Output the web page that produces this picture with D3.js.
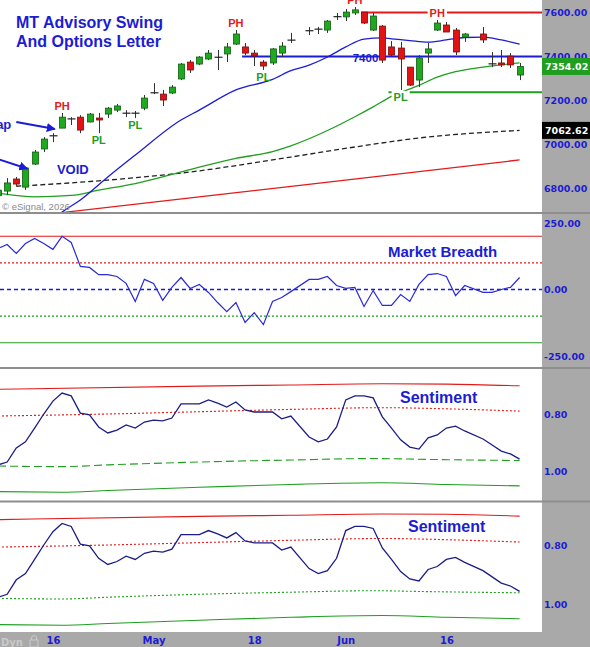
<!DOCTYPE html>
<meta charset="utf-8">
<style>
body { margin: 0; background: #fff; }
svg { display: block; font-family: "Liberation Sans", Arial, sans-serif; }
</style>
<svg id="chart" width="590" height="647"></svg>
<script src="https://cdn.jsdelivr.net/npm/d3@7"></script>
<script>

// ---- data ----
// date, open, high, low, close
var candles = [
  ["2026-04-08", 6765, 6795, 6755, 6790],
  ["2026-04-09", 6786, 6845, 6768, 6823],
  ["2026-04-10", 6841, 6850, 6809, 6818],
  ["2026-04-13", 6804, 6891, 6791, 6891],
  ["2026-04-14", 6909, 6973, 6905, 6964],
  ["2026-04-15", 6978, 7032, 6964, 7023],
  ["2026-04-16", 7037, 7050, 7009, 7038],
  ["2026-04-17", 7073, 7142, 7073, 7123],
  ["2026-04-20", 7119, 7123, 7087, 7115],
  ["2026-04-21", 7123, 7132, 7050, 7064],
  ["2026-04-22", 7101, 7142, 7099, 7137],
  ["2026-04-23", 7119, 7142, 7050, 7110],
  ["2026-04-24", 7137, 7169, 7119, 7164],
  ["2026-04-27", 7155, 7183, 7146, 7174],
  ["2026-04-28", 7142, 7155, 7123, 7141],
  ["2026-04-29", 7140, 7151, 7119, 7141],
  ["2026-04-30", 7164, 7224, 7155, 7210],
  ["2026-05-01", 7233, 7278, 7228, 7234],
  ["2026-05-04", 7228, 7247, 7174, 7201],
  ["2026-05-05", 7233, 7269, 7228, 7260],
  ["2026-05-06", 7297, 7370, 7292, 7365],
  ["2026-05-07", 7374, 7383, 7324, 7338],
  ["2026-05-08", 7365, 7401, 7360, 7397],
  ["2026-05-11", 7388, 7429, 7383, 7415],
  ["2026-05-12", 7397, 7429, 7338, 7396],
  ["2026-05-13", 7411, 7461, 7374, 7443],
  ["2026-05-14", 7456, 7520, 7452, 7502],
  ["2026-05-15", 7443, 7461, 7406, 7415],
  ["2026-05-18", 7415, 7429, 7356, 7402],
  ["2026-05-19", 7374, 7383, 7338, 7356],
  ["2026-05-20", 7370, 7438, 7361, 7434],
  ["2026-05-21", 7415, 7465, 7397, 7447],
  ["2026-05-22", 7475, 7507, 7461, 7474],
  ["2026-05-26", 7516, 7534, 7497, 7517],
  ["2026-05-27", 7525, 7534, 7502, 7524],
  ["2026-05-28", 7520, 7566, 7507, 7561],
  ["2026-05-29", 7580, 7598, 7566, 7581],
  ["2026-06-01", 7580, 7616, 7561, 7602],
  ["2026-06-02", 7598, 7625, 7589, 7612],
  ["2026-06-03", 7602, 7602, 7548, 7552],
  ["2026-06-04", 7520, 7598, 7516, 7584],
  ["2026-06-05", 7538, 7543, 7370, 7383],
  ["2026-06-08", 7443, 7470, 7397, 7406],
  ["2026-06-09", 7438, 7466, 7247, 7388],
  ["2026-06-10", 7351, 7351, 7265, 7269],
  ["2026-06-11", 7292, 7406, 7260, 7393],
  ["2026-06-12", 7415, 7461, 7370, 7434],
  ["2026-06-15", 7520, 7566, 7516, 7552],
  ["2026-06-16", 7543, 7557, 7511, 7511],
  ["2026-06-17", 7520, 7529, 7406, 7420],
  ["2026-06-18", 7488, 7507, 7466, 7502],
  ["2026-06-22", 7502, 7534, 7461, 7475],
  ["2026-06-23", 7365, 7420, 7351, 7366],
  ["2026-06-24", 7370, 7429, 7351, 7361],
  ["2026-06-25", 7401, 7415, 7347, 7361],
  ["2026-06-26", 7315, 7370, 7292, 7354.02]
];

var blueMA = [["2026-04-16", 6655], ["2026-04-17", 6690], ["2026-04-21", 6745], ["2026-04-24", 6850],
  ["2026-04-29", 6950], ["2026-05-06", 7110], ["2026-05-08", 7155], ["2026-05-14", 7247],
  ["2026-05-20", 7295], ["2026-05-22", 7335], ["2026-05-26", 7360], ["2026-05-28", 7397],
  ["2026-06-01", 7443], ["2026-06-03", 7479], ["2026-06-05", 7484], ["2026-06-08", 7480],
  ["2026-06-10", 7472], ["2026-06-12", 7465], ["2026-06-16", 7475], ["2026-06-18", 7486],
  ["2026-06-22", 7488], ["2026-06-24", 7475], ["2026-06-26", 7456]];

var greenMA = [["2026-04-08", 6777], ["2026-04-14", 6760], ["2026-04-20", 6766], ["2026-04-23", 6790],
  ["2026-04-29", 6820], ["2026-05-05", 6862], ["2026-05-08", 6895], ["2026-05-14", 6935],
  ["2026-05-20", 6966], ["2026-05-22", 6992], ["2026-05-28", 7062], ["2026-06-02", 7125],
  ["2026-06-04", 7170], ["2026-06-08", 7218], ["2026-06-11", 7268], ["2026-06-15", 7305],
  ["2026-06-17", 7330], ["2026-06-22", 7351], ["2026-06-26", 7370]];

var blackMA = [["2026-04-10", 6808], ["2026-04-24", 6836], ["2026-05-06", 6868], ["2026-05-22", 6941],
  ["2026-06-02", 6987], ["2026-06-11", 7028], ["2026-06-26", 7062.62]];

var redMA = [["2026-04-16", 6683], ["2026-04-17", 6688], ["2026-05-25", 6812], ["2026-06-26", 6928]];

var priceTicks = [6800, 7000, 7200, 7400, 7600];

// horizontal levels: start date, price
var levels = [["2026-06-03", 7600, "#e31a1a"], ["2026-05-15", 7400, "#1c1cd2"], ["2026-06-08", 7237, "#1f9e1f"]];
var levelText = ["2026-06-01", 7400, "7400"];

var swings = [["2026-04-17", "PH"], ["2026-04-23", "PL"], ["2026-04-29", "PL"], ["2026-05-14", "PH"],
  ["2026-05-19", "PL"], ["2026-06-02", "PH"], ["2026-06-09", "PL"], ["2026-06-15", "PH"]];

// arrows: tail [date, price], tip [date, price], text at tail
var arrows = [
  [["2026-04-10", 7101], ["2026-04-16", 7069], "Gap"],
  [["2026-04-08", 6932], ["2026-04-13", 6888], ""]
];
var voidNote = ["2026-04-16", 6866, "VOID"];

var breadth = [154, 169, 136, 173, 192, 173, 151, 200, 177, 87, 83, 56, 56, 49, 23, -45, 38, 23, -41, 8,
  45, 4, 19, -11, -49, -83, -49, -124, -87, -132, -45, -30, -8,
  38, 38, 49, 15, 4, 8, -64, -4, -60, -60, -19, -45, 19, 56, 60, 49, -23, 15,
  -11, -11, 0, 8, 45];
var breadthTicks = [250, 0, -250];
var breadthLevels = [[200, "#e31a1a", null], [100, "#e31a1a", "2,2"], [0, "#1c1cd2", "4,3"],
  [-100, "#1f9e1f", "2,2"], [-200, "#1f9e1f", null]];

var sentiment = [0.977, 0.967, 0.918, 0.897, 0.849, 0.800, 0.755, 0.727, 0.737, 0.797, 0.803, 0.845,
  0.866, 0.856, 0.838, 0.849, 0.828, 0.821, 0.824, 0.814, 0.765, 0.765, 0.765, 0.751, 0.762, 0.776,
  0.758, 0.786, 0.793, 0.793, 0.793, 0.817, 0.807,
  0.880, 0.897, 0.887, 0.845, 0.751, 0.737, 0.737, 0.744, 0.810, 0.849, 0.890, 0.915, 0.922, 0.883,
  0.873, 0.849, 0.842, 0.859,
  0.887, 0.908, 0.929, 0.939, 0.957];
var sentUpper = [["2026-04-08", 0.714], ["2026-05-08", 0.703], ["2026-05-22", 0.699], ["2026-06-05", 0.695],
  ["2026-06-16", 0.696], ["2026-06-26", 0.702]];
var sentUpperMid = [["2026-04-08", 0.807], ["2026-04-24", 0.800], ["2026-05-08", 0.792], ["2026-05-22", 0.784],
  ["2026-06-05", 0.778], ["2026-06-16", 0.782], ["2026-06-26", 0.790]];
var sentLowerMid = [["2026-04-08", 0.981], ["2026-04-17", 0.983], ["2026-04-24", 0.977], ["2026-05-08", 0.967],
  ["2026-05-22", 0.960], ["2026-06-04", 0.955], ["2026-06-12", 0.958], ["2026-06-26", 0.962]];
var sentLower = [["2026-04-08", 1.070], ["2026-04-17", 1.072], ["2026-04-24", 1.066], ["2026-05-08", 1.055],
  ["2026-05-22", 1.045], ["2026-06-05", 1.039], ["2026-06-16", 1.045], ["2026-06-26", 1.050]];
var sentTicks = [0.8, 1.0];

var dateTicks = [["2026-04-16", "16"], ["2026-05-01", "May"], ["2026-05-18", "18"], ["2026-06-01", "Jun"], ["2026-06-16", "16"]];

// ---- layout ----
var svg = d3.select("#chart");
var W = 590, H = 647, plotRight = 542, axisTop = 632;
var blue = "#1c1cd2", red = "#e31a1a", green = "#1f9e1f", gray = "#a9a9a9";
var panels = {
  price: [0, 212],
  breadth: [214, 367],
  sent1: [369, 500],
  sent2: [503, 631]
};

var fmtDay = d3.timeFormat("%Y-%m-%d");
var weekdays = d3.timeDay.range(new Date(2026, 3, 8), new Date(2026, 5, 27))
  .filter(function(d) { return d.getDay() > 0 && d.getDay() < 6; })
  .map(fmtDay);
var tradeDays = candles.map(function(d) { return d[0]; });

var x = d3.scalePoint().domain(weekdays).range([-2, 519.6]);
var yPrice = d3.scaleLinear().domain([6800, 7600]).range([188, 12.5]);
var yBreadth = d3.scaleLinear().domain([-250, 250]).range([356, 223]);
var ySent1 = d3.scaleLinear().domain([0.8, 1.0]).range([414, 471.5]);
var ySent2 = d3.scaleLinear().domain([0.8, 1.0]).range([545, 604]);

var defs = svg.append("defs");
Object.keys(panels).forEach(function(k) {
  defs.append("clipPath").attr("id", "clip-" + k)
    .append("rect").attr("x", 0).attr("y", panels[k][0])
    .attr("width", plotRight).attr("height", panels[k][1] - panels[k][0]);
});
defs.append("marker").attr("id", "arrowHead")
  .attr("viewBox", "0 0 10 10").attr("refX", 9).attr("refY", 5)
  .attr("markerWidth", 4.5).attr("markerHeight", 4.5).attr("orient", "auto")
  .append("path").attr("d", "M0,0L10,5L0,10Z").attr("fill", blue);

// backgrounds
svg.append("rect").attr("width", W).attr("height", H).attr("fill", "#fff");
svg.append("rect").attr("x", plotRight).attr("y", 0).attr("width", W - plotRight).attr("height", H).attr("fill", gray);
svg.append("rect").attr("x", 0).attr("y", axisTop).attr("width", W).attr("height", H - axisTop).attr("fill", gray);
[213, 368, 501.5].forEach(function(yy) {
  svg.append("line").attr("x1", 0).attr("x2", W).attr("y1", yy).attr("y2", yy)
    .attr("stroke", "#8e8e8e").attr("stroke-width", 2);
});

var keyLine = function(yScale, curve) {
  return d3.line()
    .x(function(d) { return x(d[0]); })
    .y(function(d) { return yScale(d[1]); })
    .curve(curve || d3.curveMonotoneX);
};

// ---- price panel ----
var gp = svg.append("g").attr("clip-path", "url(#clip-price)");

gp.append("path").datum(redMA).attr("d", keyLine(yPrice)).attr("fill", "none").attr("stroke", red).attr("stroke-width", 1.3);
gp.append("path").datum(blackMA).attr("d", keyLine(yPrice)).attr("fill", "none").attr("stroke", "#222")
  .attr("stroke-width", 1.3).attr("stroke-dasharray", "5,3");
gp.append("path").datum(greenMA).attr("d", keyLine(yPrice)).attr("fill", "none").attr("stroke", green).attr("stroke-width", 1.3);
gp.append("path").datum(blueMA).attr("d", keyLine(yPrice)).attr("fill", "none").attr("stroke", blue).attr("stroke-width", 1.3);

gp.selectAll("line.level").data(levels).enter().append("line")
  .attr("class", "level")
  .attr("x1", function(d) { return x(d[0]) - 3; })
  .attr("x2", plotRight)
  .attr("y1", function(d) { return yPrice(d[1]); })
  .attr("y2", function(d) { return yPrice(d[1]); })
  .attr("stroke", function(d) { return d[2]; })
  .attr("stroke-width", 2);

var candle = gp.selectAll("g.candle").data(candles).enter().append("g").attr("class", "candle");
candle.append("line")
  .attr("x1", function(d) { return Math.round(x(d[0])) + 0.5; })
  .attr("x2", function(d) { return Math.round(x(d[0])) + 0.5; })
  .attr("y1", function(d) { return yPrice(d[2]); })
  .attr("y2", function(d) { return yPrice(d[3]); })
  .attr("stroke", "#333").attr("stroke-width", 1);
candle.each(function(d) {
  var g = d3.select(this), cx = Math.round(x(d[0])) + 0.5;
  var yo = yPrice(d[1]), yc = yPrice(d[4]);
  if (Math.abs(yo - yc) < 1.5) {
    g.append("line").attr("x1", cx - 4).attr("x2", cx + 4).attr("y1", yc).attr("y2", yc)
      .attr("stroke", "#222").attr("stroke-width", 1.2);
  } else {
    var up = d[4] > d[1];
    g.append("rect")
      .attr("x", cx - 3).attr("width", 6)
      .attr("y", Math.min(yo, yc)).attr("height", Math.abs(yo - yc))
      .attr("fill", up ? "#21a821" : "#e01414")
      .attr("stroke", up ? "#0f5e0f" : "#7e0c0c").attr("stroke-width", 0.8);
  }
});

// level text and swing labels
gp.append("text")
  .attr("x", x(levelText[0]) + 7).attr("y", yPrice(levelText[1]) + 6)
  .attr("fill", blue).attr("font-weight", "bold").attr("font-size", 11.5)
  .text(levelText[2]);

var byDate = {};
candles.forEach(function(d) { byDate[d[0]] = d; });
swings.forEach(function(s) {
  var c = byDate[s[0]], isHigh = s[1] === "PH";
  var cy = isHigh ? yPrice(c[2]) - 7 : yPrice(c[3]) + 7;
  var onLevel = levels.some(function(l) { return l[0] <= s[0] && Math.abs(yPrice(l[1]) - cy) < 8; });
  var box = gp.append("rect");
  var t = gp.append("text")
    .attr("x", x(s[0])).attr("y", cy).attr("dy", "0.36em")
    .attr("text-anchor", "middle").attr("font-weight", "bold").attr("font-size", 11)
    .attr("fill", isHigh ? red : green).text(s[1]);
  if (onLevel) {
    var w = t.node().getComputedTextLength() + 4;
    box.attr("x", x(s[0]) - w / 2).attr("y", cy - 6).attr("width", w).attr("height", 12).attr("fill", "#fff");
  } else {
    box.remove();
  }
});

// annotations
arrows.forEach(function(a) {
  var x0 = x(a[0][0]), y0 = yPrice(a[0][1]), x1 = x(a[1][0]) + 2, y1 = yPrice(a[1][1]);
  gp.append("line").attr("x1", x0).attr("y1", y0).attr("x2", x1).attr("y2", y1)
    .attr("stroke", blue).attr("stroke-width", 2).attr("marker-end", "url(#arrowHead)");
  if (a[2]) {
    gp.append("text").attr("x", x0 - 5).attr("y", y0 + 2).attr("dy", "0.35em")
      .attr("text-anchor", "end").attr("font-weight", "bold").attr("font-size", 13)
      .attr("fill", blue).text(a[2]);
  }
});
gp.append("text").attr("x", x(voidNote[0]) + 4).attr("y", yPrice(voidNote[1]))
  .attr("font-weight", "bold").attr("font-size", 13).attr("fill", blue).text(voidNote[2]);

svg.append("text").attr("x", 16).attr("y", 28).attr("font-weight", "bold").attr("font-size", 16)
  .attr("fill", blue).text("MT Advisory Swing");
svg.append("text").attr("x", 16).attr("y", 47).attr("font-weight", "bold").attr("font-size", 16)
  .attr("fill", blue).text("And Options Letter");
svg.append("text").attr("x", 2).attr("y", 210).attr("font-size", 9.5).attr("fill", "#8a8a8a")
  .text("\u00a9 eSignal, 2026");

// ---- market breadth ----
var gb = svg.append("g").attr("clip-path", "url(#clip-breadth)");
gb.selectAll("line").data(breadthLevels).enter().append("line")
  .attr("x1", 0).attr("x2", plotRight)
  .attr("y1", function(d) { return yBreadth(d[0]); })
  .attr("y2", function(d) { return yBreadth(d[0]); })
  .attr("stroke", function(d) { return d[1]; })
  .attr("stroke-width", function(d) { return d[0] === 0 ? 1.6 : 1.1; })
  .attr("stroke-dasharray", function(d) { return d[2]; });
gb.append("path").datum(breadth)
  .attr("d", d3.line()
    .x(function(d, i) { return x(tradeDays[i]); })
    .y(function(d) { return yBreadth(d); }))
  .attr("fill", "none").attr("stroke", "#2a2ad6").attr("stroke-width", 1.2);
svg.append("text").attr("x", 388).attr("y", 257).attr("font-weight", "bold").attr("font-size", 15)
  .attr("fill", blue).text("Market Breadth");

// ---- sentiment panels ----
function sentimentPanel(key, yScale, midDash, labelX, labelY) {
  var g = svg.append("g").attr("clip-path", "url(#clip-" + key + ")");
  [[sentUpper, red, null], [sentUpperMid, red, "2,2"], [sentLowerMid, green, midDash], [sentLower, green, null]]
    .forEach(function(b) {
      g.append("path").datum(b[0]).attr("d", keyLine(yScale))
        .attr("fill", "none").attr("stroke", b[1]).attr("stroke-width", 1.1)
        .attr("stroke-dasharray", b[2]);
    });
  g.append("path").datum(sentiment)
    .attr("d", d3.line()
      .x(function(d, i) { return x(tradeDays[i]); })
      .y(function(d) { return yScale(d); }))
    .attr("fill", "none").attr("stroke", "#1c1c86").attr("stroke-width", 1.3);
  svg.append("text").attr("x", labelX).attr("y", labelY).attr("font-weight", "bold").attr("font-size", 16)
    .attr("fill", blue).text("Sentiment");
}
sentimentPanel("sent1", ySent1, "8,4", 400, 403);
sentimentPanel("sent2", ySent2, "2,2", 408, 532);

// ---- axes ----
var fix2 = function(d) { return d.toFixed(2); };
function rightAxis(scale, ticks) {
  var g = svg.append("g").attr("transform", "translate(544,0)")
    .call(d3.axisRight(scale).tickValues(ticks).tickSize(0).tickPadding(0).tickFormat(fix2));
  g.select(".domain").remove();
  g.attr("font-family", "DejaVu Sans, sans-serif").attr("font-size", 9.5).attr("font-weight", "bold");
  g.selectAll("text").attr("fill", blue);
}
rightAxis(yPrice, priceTicks);
rightAxis(yBreadth, breadthTicks);
rightAxis(ySent1, sentTicks);
rightAxis(ySent2, sentTicks);

// last value boxes
var lastClose = candles[candles.length - 1][4];
var lastBlack = blackMA[blackMA.length - 1][1];
[[lastClose, green], [lastBlack, "#000"]].forEach(function(b) {
  var yy = yPrice(b[0]);
  svg.append("rect").attr("x", plotRight).attr("y", yy - 8.5).attr("width", W - plotRight).attr("height", 17)
    .attr("fill", b[1]);
  svg.append("text").attr("x", 545).attr("y", yy).attr("dy", "0.35em")
    .attr("font-family", "DejaVu Sans, sans-serif").attr("font-size", 9.5).attr("font-weight", "bold")
    .attr("fill", "#fff").text(fix2(b[0]));
});

var labelOf = {};
dateTicks.forEach(function(d) { labelOf[d[0]] = d[1]; });
var gx = svg.append("g").attr("transform", "translate(0,637)")
  .call(d3.axisBottom(x).tickValues(dateTicks.map(function(d) { return d[0]; }))
    .tickSize(0).tickPadding(0).tickFormat(function(d) { return labelOf[d]; }));
gx.select(".domain").remove();
gx.attr("font-family", "DejaVu Sans, sans-serif").attr("font-size", 10).attr("font-weight", "bold");
gx.selectAll("text").attr("fill", blue);

svg.append("text").attr("x", 1).attr("y", 646).attr("font-family", "DejaVu Sans, sans-serif")
  .attr("font-size", 10).attr("font-weight", "bold").attr("fill", "#c9c9c9").text("Dyn");
svg.append("rect").attr("x", 30).attr("y", 640).attr("width", 8).attr("height", 7)
  .attr("fill", "none").attr("stroke", "#c9c9c9");
svg.append("path").attr("d", "M31.5,640v-2a2.5,2.5 0 0 1 5,0v2").attr("fill", "none").attr("stroke", "#c9c9c9");

</script>
